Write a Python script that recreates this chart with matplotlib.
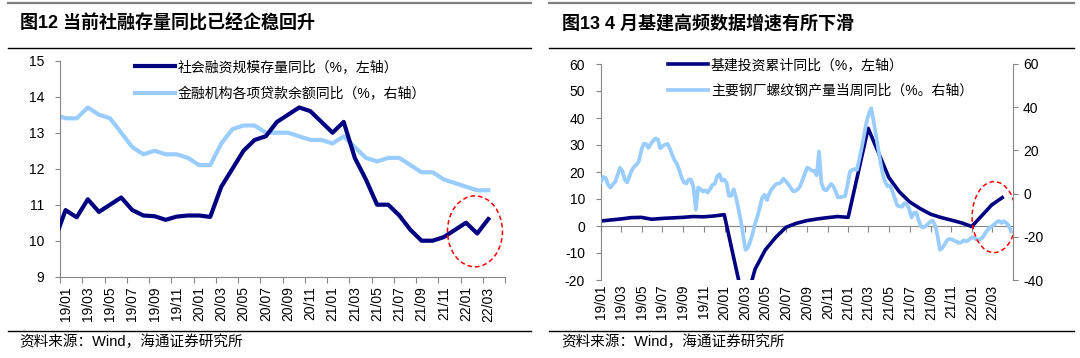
import numpy as np
import pandas as pd
import matplotlib
matplotlib.use('Agg')
import matplotlib.pyplot as plt
import matplotlib.dates as mdates
from matplotlib.lines import Line2D
from matplotlib.patches import Ellipse

plt.rcParams['font.family'] = ['Liberation Sans', 'Noto Sans CJK SC']
plt.rcParams['axes.unicode_minus'] = False

NAVY = '#000080'
LIGHT = '#99CCFF'
GREY = '#868686'

# ---- 图12: monthly, %
months_12 = pd.period_range('2018-12', '2022-03', freq='M').strftime('%y/%m').tolist()
tsf_yoy = [10.0,
           10.85, 10.65, 11.15, 10.8, 11.0, 11.2, 10.85, 10.7, 10.68, 10.58, 10.67, 10.7,
           10.7, 10.66, 11.5, 12.0, 12.5, 12.8, 12.9, 13.3, 13.5, 13.7, 13.6, 13.3,
           13.0, 13.3, 12.3, 11.7, 11.0, 11.0, 10.7, 10.3, 10.0, 10.0, 10.1, 10.3,
           10.5, 10.2, 10.6]
loans_yoy = [13.5,
             13.4, 13.4, 13.7, 13.5, 13.4, 13.0, 12.6, 12.4, 12.5, 12.4, 12.4, 12.3,
             12.1, 12.1, 12.7, 13.1, 13.2, 13.2, 13.0, 13.0, 13.0, 12.9, 12.8, 12.8,
             12.7, 12.9, 12.6, 12.3, 12.2, 12.3, 12.3, 12.1, 11.9, 11.9, 11.7, 11.6,
             11.5, 11.4, 11.4]

# ---- 图13: infrastructure (monthly cumulative, left axis), rebar output (weekly, right axis)
infra_months = ['2018-12', '2019-02', '2019-03', '2019-04', '2019-05', '2019-06', '2019-07',
                '2019-08', '2019-09', '2019-10', '2019-11', '2019-12',
                '2020-02', '2020-03', '2020-04', '2020-05', '2020-06', '2020-07',
                '2020-08', '2020-09', '2020-10', '2020-11', '2020-12',
                '2021-02', '2021-03', '2021-04', '2021-05', '2021-06', '2021-07',
                '2021-08', '2021-09', '2021-10', '2021-11', '2021-12',
                '2022-02', '2022-03']
infra_yoy = [1.85, 2.6, 3.1, 3.2, 2.5, 2.8, 3.0, 3.2, 3.5, 3.4, 3.7, 4.2,
             -30.0, -16.0, -8.9, -4.2, -0.5, 1.0, 2.0, 2.6, 3.1, 3.5, 3.2,
             36.2, 27.0, 18.0, 12.7, 9.0, 6.5, 4.4, 3.2, 2.2, 1.2, -0.2,
             7.8, 10.5]
rebar_start = '2019-01-01'
rebar_yoy = [5.4, 7.7, 7.2, 4.0, 2.8, 4.3, 5.4, 8.5, 12.0, 10.5,
             6.5, 5.2, 8.0, 10.8, 12.5, 13.5, 15.0, 20.0, 23.0, 23.0,
             21.2, 23.0, 24.5, 25.5, 25.0, 21.0, 22.0, 22.6, 23.1, 21.0,
             18.0, 15.5, 13.8, 11.0, 7.5, 5.2, 4.7, 6.5, 6.5, 3.1,
             -7.5, 2.8, 2.0, 1.0, 1.5, 0.5, 2.0, 4.0, 4.5, 8.0,
             9.0, 6.0, 6.5, 5.0, -1.0, -1.0, 2.0, -2.0, -7.0, -12.5,
             -19.5, -26.0, -25.0, -22.0, -18.5, -13.9, -10.6, -6.5, -2.0, -0.5,
             -3.0, 0.0, 2.0, 3.4, 4.5, 4.6, 5.3, 6.9, 5.8, 4.3,
             2.8, 1.1, 1.2, 2.0, 3.4, 6.3, 9.3, 12.0, 11.5, 10.6,
             10.5, 8.5, 19.5, 5.0, 2.0, 1.5, 2.7, 4.5, 3.5, 1.0,
             -1.8, -1.6, -1.4, -1.2, 4.0, 10.0, 11.0, 11.3, 11.0, 16.0,
             21.3, 27.0, 33.0, 37.0, 39.5, 33.8, 27.0, 20.5, 14.0, 8.5,
             5.0, 3.3, 3.8, 1.0, -2.3, -5.5, -5.9, -6.1, -4.4, -5.0,
             -7.0, -11.0, -9.0, -8.7, -12.3, -15.2, -15.7, -15.0, -14.0, -13.0,
             -12.5, -15.0, -19.5, -26.0, -25.2, -23.5, -21.6, -21.0, -21.2, -21.8,
             -22.2, -22.8, -22.6, -21.6, -22.1, -21.6, -20.7, -20.1, -21.0, -21.4,
             -21.1, -20.4, -18.6, -17.0, -15.8, -15.1, -14.2, -13.1, -12.7, -13.6,
             -12.8, -13.6, -14.7, -17.5]

W, H = 1080, 358
fig = plt.figure(figsize=(W / 100, H / 100), dpi=100)


def fx(px):
    return px / W


def fy(py):
    return 1 - py / H


# frame lines, titles, sources
for x0, x1 in [(8, 531), (549, 1074)]:
    fig.add_artist(Line2D([fx(x0), fx(x1)], [fy(3.3), fy(3.3)], color='#7f7f7f', lw=1.6))
    fig.add_artist(Line2D([fx(x0), fx(x1)], [fy(48.3), fy(48.3)], color='black', lw=1.0))
    fig.add_artist(Line2D([fx(x0), fx(x1)], [fy(330.7), fy(330.7)], color='black', lw=1.0))

fig.text(fx(20), fy(23.5), '图12 当前社融存量同比已经企稳回升', fontsize=13, fontweight='bold', va='center')
fig.text(fx(562), fy(23.5), '图13 4 月基建高频数据增速有所下滑', fontsize=13, fontweight='bold', va='center')
fig.text(fx(19), fy(342), '资料来源：Wind，海通证券研究所', fontsize=10.5, va='center')
fig.text(fx(561), fy(342), '资料来源：Wind，海通证券研究所', fontsize=10.5, va='center')

# ---------------- left chart
axL = fig.add_axes([fx(60), fy(276.7), fx(445), 216 / H])
x12 = np.arange(len(months_12)) - 0.5
axL.plot(x12, loans_yoy, color=LIGHT, lw=3, solid_joinstyle='round', zorder=2,
         label='金融机构各项贷款余额同比（%，右轴）')
axL.plot(x12, tsf_yoy, color=NAVY, lw=3, solid_joinstyle='round', zorder=3,
         label='社会融资规模存量同比（%，左轴）')
axL.set_xlim(0, len(months_12))
axL.set_ylim(9, 15)
axL.set_yticks(np.arange(9, 16, 1))
axL.set_xticks(np.arange(0, len(months_12) + 1, 2))
axL.set_xticklabels([])
axL.set_xticks(x12[1::2], minor=True)
axL.set_xticklabels(months_12[1::2], minor=True, rotation=90)
axL.tick_params(axis='x', which='major', direction='out', length=4, color=GREY)
axL.tick_params(axis='x', which='minor', length=0, pad=7, labelsize=10)
axL.tick_params(axis='y', direction='out', length=3.5, color=GREY, pad=8, labelsize=10)
for s in ['top', 'right']:
    axL.spines[s].set_visible(False)
for s in ['left', 'bottom']:
    axL.spines[s].set_color(GREY)
axL.add_patch(Ellipse((37.3, 10.26), 4.94, 1.97, fill=False, edgecolor='red',
                      lw=1.1, ls=(0, (3, 2)), zorder=4))

h, l = axL.get_legend_handles_labels()
fig.legend(h[::-1], l[::-1], loc='upper left', bbox_to_anchor=(fx(134.5), fy(60)),
           bbox_transform=fig.transFigure, frameon=False, fontsize=10,
           borderpad=0, borderaxespad=0, handlelength=2.95, handletextpad=0.15,
           labelspacing=0.95)

# ---------------- right chart
axR = fig.add_axes([fx(601), fy(280), fx(411.7), 216 / H])
infra_dates = pd.to_datetime(infra_months) + pd.offsets.MonthEnd(0)
rebar_dates = pd.date_range(rebar_start, periods=len(rebar_yoy), freq='7D')
axR.plot(infra_dates, infra_yoy, color=NAVY, lw=2.6, solid_joinstyle='round',
         label='基建投资累计同比（%，左轴）')
axR.set_ylim(-20, 60)
axR.set_yticks(np.arange(-20, 61, 10))
x0, x1 = pd.Timestamp('2019-01-01'), pd.Timestamp('2022-05-01')
axR.set_xlim(x0, x1)

ax2 = axR.twinx()
ax2.plot(rebar_dates, rebar_yoy, color=LIGHT, lw=2.7, solid_joinstyle='round',
         label='主要钢厂螺纹钢产量当周同比（%。右轴）')
ax2.set_ylim(-40, 60)
ax2.set_yticks(np.arange(-40, 61, 20))
ax2.set_xlim(x0, x1)

tick_dates = pd.date_range(x0, x1, freq='2MS')
tick_labels = [d.strftime('%y/%m') for d in tick_dates]
tick_labels[-1] = ''
axR.set_xticks(tick_dates)
axR.set_xticklabels(tick_labels, rotation=90)
axR.tick_params(axis='x', length=0, pad=3.5, labelsize=10)
axR.tick_params(axis='y', direction='out', length=3.5, color=GREY, pad=8, labelsize=10)
ax2.tick_params(axis='y', direction='out', length=3.5, color=GREY, pad=4, labelsize=10)

for s in ['top', 'right', 'bottom']:
    axR.spines[s].set_visible(False)
axR.spines['left'].set_color(GREY)
for s in ['top', 'left', 'bottom']:
    ax2.spines[s].set_visible(False)
ax2.spines['right'].set_color(GREY)

# category axis crossing at 0
secax = axR.secondary_xaxis(0.25)
secax.set_xticks(tick_dates)
secax.tick_params(axis='x', direction='out', length=4, color=GREY, labelbottom=False)
secax.spines['bottom'].set_color(GREY)

ell_c = mdates.date2num(pd.Timestamp('2022-03-07'))
ax2.add_patch(Ellipse((ell_c, 3.3 * 1.25 - 15), 130, 26.3 * 1.25, fill=False,
                      edgecolor='red', lw=1.1, ls=(0, (3, 2)), zorder=4))

hR = axR.get_legend_handles_labels()[0] + ax2.get_legend_handles_labels()[0]
lR = axR.get_legend_handles_labels()[1] + ax2.get_legend_handles_labels()[1]
fig.legend(hR, lR, loc='upper left', bbox_to_anchor=(fx(668), fy(58)),
           bbox_transform=fig.transFigure, frameon=False, fontsize=10,
           borderpad=0, borderaxespad=0, handlelength=2.88, handletextpad=0.2,
           labelspacing=0.85)

fig.savefig('out.png', dpi=100)
